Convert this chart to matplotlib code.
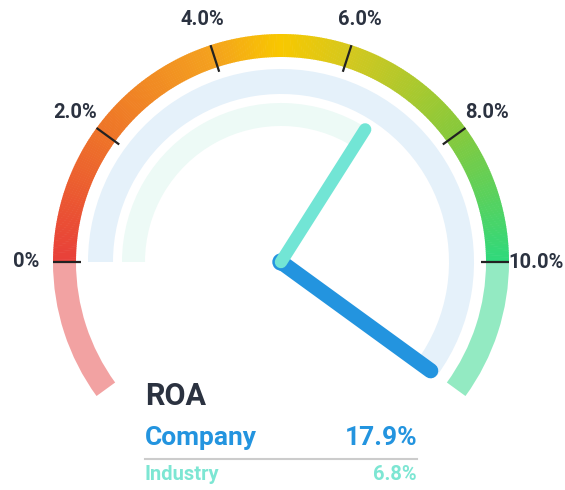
import numpy as np
import matplotlib
matplotlib.use("Agg")
import matplotlib.pyplot as plt
from matplotlib.patches import Wedge, Circle
from matplotlib.colors import LinearSegmentedColormap

# ---- data ----
metric = "ROA"
tick_values = [0, 2, 4, 6, 8, 10]
tick_labels = ["0%", "2.0%", "4.0%", "6.0%", "8.0%", "10.0%"]
company_value = 17.9
industry_value = 6.8
company_label = "17.9%"
industry_label = "6.8%"
scale_min, scale_max = 0, 10
clip_min, clip_max = -2, 12

W, H = 565, 490
fig = plt.figure(figsize=(W / 100, H / 100), dpi=100)
ax = fig.add_axes([0, 0, 1, 1])
ax.set_xlim(0, W)
ax.set_ylim(0, H)
ax.set_aspect("equal")
ax.axis("off")

cx, cy = 281, H - 262


def ang(v):
    v = min(max(v, clip_min), clip_max)
    return 180 - 180 * (v - scale_min) / (scale_max - scale_min)


FONT = ["Roboto", "DejaVu Sans"]
dark = "#2b3240"
WT = "semibold"

# gradient arc
cmap = LinearSegmentedColormap.from_list(
    "g", [(0, "#e8403a"), (0.2, "#ee7428"), (0.4, "#f4a21e"), (0.5, "#f8c800"),
          (0.6, "#d5c81e"), (0.8, "#86c93c"), (1.0, "#30d97c")])
N = 300
r_out, width = 228, 23
for i in range(N):
    v0 = scale_min + (scale_max - scale_min) * i / N
    v1 = scale_min + (scale_max - scale_min) * (i + 1) / N
    ax.add_patch(Wedge((cx, cy), r_out, ang(v1) - 0.15, ang(v0), width=width,
                       color=cmap((i + 0.5) / N), lw=0))
# lower extensions
ax.add_patch(Wedge((cx, cy), r_out, ang(scale_min), ang(clip_min), width=width,
                   color="#f2a2a2", lw=0))
ax.add_patch(Wedge((cx, cy), r_out, ang(clip_max), ang(scale_max), width=width,
                   color="#93eac2", lw=0))

# company band and industry band
ax.add_patch(Wedge((cx, cy), 193, ang(company_value), 180, width=25,
                   color="#e5f1fa", lw=0))
ax.add_patch(Wedge((cx, cy), 159, ang(industry_value), 180, width=23,
                   color="#edfaf6", lw=0))

# ticks and labels
for v, lab in zip(tick_values, tick_labels):
    a = np.deg2rad(ang(v))
    ax.plot([cx + 200 * np.cos(a), cx + 228 * np.cos(a)],
            [cy + 200 * np.sin(a), cy + 228 * np.sin(a)],
            color="#222222", lw=1.6, solid_capstyle="butt", zorder=3)
    rl = 255
    ax.text(cx + rl * np.cos(a), cy + rl * np.sin(a), lab, ha="center",
            va="center", fontsize=14.5, color=dark, family=FONT, weight=WT)

# needles
a = np.deg2rad(ang(company_value))
ax.plot([cx, cx + 185 * np.cos(a)], [cy, cy + 185 * np.sin(a)],
        color="#2394df", lw=11, solid_capstyle="round", zorder=4)
ax.add_patch(Circle((cx, cy), 8, color="#2394df", zorder=4))
a = np.deg2rad(ang(industry_value))
ax.plot([cx, cx + 157 * np.cos(a)], [cy, cy + 157 * np.sin(a)],
        color="#72e5d5", lw=9, solid_capstyle="round", zorder=5)

# text block
xl, xr = 145, 417
ax.text(xl, H - 396, metric, ha="left", va="center", fontsize=22,
        color=dark, family=FONT, weight=WT)
ax.text(xl, H - 438, "Company", ha="left", va="center", fontsize=19,
        color="#2394df", family=FONT, weight=WT)
ax.text(xr, H - 438, company_label, ha="right", va="center", fontsize=19,
        color="#2394df", family=FONT, weight=WT)
ax.plot([xl, xr], [H - 459, H - 459], color="#cccccc", lw=1.5)
ax.text(xl, H - 475, "Industry", ha="left", va="center", fontsize=14.5,
        color="#7de6d3", family=FONT, weight=WT)
ax.text(xr, H - 475, industry_label, ha="right", va="center", fontsize=14.5,
        color="#7de6d3", family=FONT, weight=WT)

fig.savefig("out.png", dpi=100)
